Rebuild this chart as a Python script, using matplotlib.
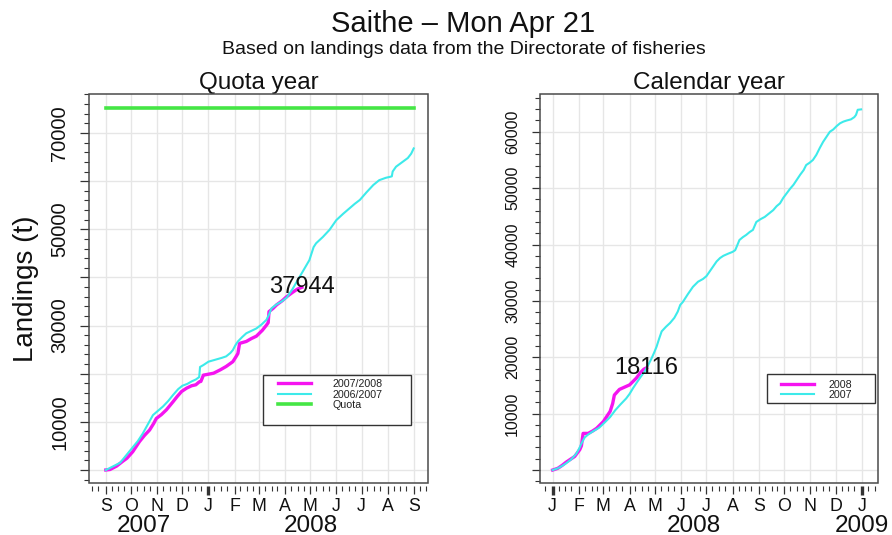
import numpy as np
import matplotlib
matplotlib.use('Agg')
import matplotlib.pyplot as plt
import matplotlib.dates as mdates
import matplotlib.transforms as mtransforms
from matplotlib.patches import Rectangle
from matplotlib.ticker import FixedLocator, FuncFormatter

plt.rcParams['font.family'] = ['Liberation Sans', 'DejaVu Sans']

# ---------------- data ----------------
title = 'Saithe – Mon Apr 21'
subtitle = 'Based on landings data from the Directorate of fisheries'
panel_titles = ['Quota year', 'Calendar year']
ylabel = 'Landings (t)'

# Quota year panel (days counted from 1 Sep 2007)
qy_start = '2007-09-01'
qy_cur_label = '2007/2008'
qy_cur_days = [0, 5, 13, 20, 25, 32, 40, 46, 52, 57, 60, 66, 72, 80, 85, 90, 96, 102, 107,
               111, 113, 116, 122, 128, 136, 143, 151, 155, 157, 159, 167, 173, 179, 186,
               191, 193, 194, 199, 203, 210, 215, 222, 228, 233]
qy_cur_vals = [0, 100, 830, 1800, 2430, 3800, 5900, 7200, 8300, 9700, 10700, 11500, 12500,
               14200, 15300, 16300, 17000, 17500, 17700, 18300, 18400, 19700, 19900, 20100,
               20800, 21500, 22500, 23600, 24200, 26300, 26700, 27300, 27800, 29000, 30100,
               30600, 32900, 33600, 34300, 35200, 36000, 36900, 37600, 37944]
qy_prev_label = '2006/2007'
qy_prev_days = [0, 8, 17, 24, 31, 38, 44, 50, 56, 62, 68, 74, 80, 86, 91, 97, 102, 107, 111,
                112, 116, 122, 130, 138, 143, 148, 151, 154, 157, 162, 167, 173, 179, 185,
                191, 194, 197, 203, 209, 215, 222, 228, 235, 242, 247, 250, 258, 266, 274,
                282, 290, 296, 302, 310, 318, 325, 333, 338, 340, 341, 345, 352, 359, 363, 366]
qy_prev_vals = [0, 700, 1500, 3000, 4500, 6000, 7600, 9500, 11400, 12300, 13200, 14300,
                15600, 16800, 17500, 17900, 18400, 18800, 19300, 21400, 21800, 22500, 22900,
                23300, 23600, 24300, 24900, 25900, 26700, 27600, 28400, 28900, 29400, 30200,
                31200, 32300, 33600, 34400, 35000, 35800, 37600, 39400, 41500, 43600, 46300,
                47100, 48400, 49900, 51900, 53200, 54400, 55300, 56100, 57700, 59200, 60200,
                60700, 60900, 61000, 62000, 63000, 63900, 64800, 65700, 66800]
quota_label = 'Quota'
quota_days = [0, 366]
quota_vals = [75100, 75100]

# Calendar year panel (days counted from 1 Jan 2008)
cy_start = '2008-01-01'
cy_cur_label = '2008'
cy_cur_days = [0, 6, 11, 16, 21, 26, 30, 32, 34, 36, 42, 47, 52, 56, 60, 64, 68, 71, 73, 76,
               79, 85, 91, 95, 99, 104, 108, 111]
cy_cur_vals = [0, 300, 800, 1400, 1900, 2400, 3200, 3600, 4300, 6500, 6500, 6900, 7400, 8000,
               8600, 9500, 10400, 11800, 13300, 13800, 14300, 14700, 15100, 15700, 16300,
               17300, 17900, 18116]
cy_prev_label = '2007'
cy_prev_days = [0, 6, 12, 16, 22, 28, 32, 34, 38, 42, 48, 55, 62, 68, 74, 80, 87, 91, 95, 99,
                104, 109, 113, 117, 120, 123, 126, 129, 134, 139, 144, 148, 151, 154, 160,
                166, 172, 178, 182, 188, 194, 198, 202, 208, 213, 216, 218, 221, 225, 229,
                233, 237, 239, 241, 246, 251, 256, 261, 265, 269, 273, 277, 281, 285, 289,
                293, 297, 300, 304, 308, 312, 316, 320, 324, 328, 332, 336, 340, 344, 348,
                353, 357, 359, 361, 365]
cy_prev_vals = [0, 300, 800, 1200, 1900, 2900, 4000, 4700, 5800, 6300, 6900, 7500, 8500, 9400,
                10600, 11600, 12700, 13500, 14500, 15400, 16500, 17500, 18600, 19800, 20800,
                21900, 23300, 24600, 25400, 26100, 27000, 28100, 29300, 29800, 31200, 32500,
                33400, 33900, 34400, 35700, 37000, 37600, 38000, 38400, 38700, 39000, 39700,
                40800, 41300, 41700, 42200, 42600, 43300, 44000, 44500, 44900, 45500, 46100,
                46800, 47300, 48300, 49100, 49900, 50600, 51500, 52400, 53200, 54100, 54500,
                55000, 55900, 57100, 58200, 59100, 60000, 60400, 61000, 61500, 61800, 62000,
                62200, 62600, 63000, 63900, 63970]

left_year_labels = ['2007', '2008']
left_year_dates = ['2007-10-16', '2008-05-02']
right_year_labels = ['2008', '2009']
right_year_dates = ['2008-06-16', '2009-01-01']

left_y_major = [0, 10000, 20000, 30000, 40000, 50000, 60000, 70000]
left_y_labels = ['', '10000', '', '30000', '', '50000', '', '70000']
right_y_major = [0, 10000, 20000, 30000, 40000, 50000, 60000]
right_y_labels = ['', '10000', '20000', '30000', '40000', '50000', '60000']

# ---------------- style ----------------
MAGENTA = '#f514f0'
CYAN = '#3deaea'
GREEN = '#45e645'
GRID = '#e6e6e6'
FRAME = '#4a4a4a'
TICK = '#333333'

W, H = 892, 535
fig = plt.figure(figsize=(W / 100, H / 100), dpi=100)


def px_axes(x0, x1, y0, y1):
    return fig.add_axes([x0 / W, (H - y1) / H, (x1 - x0) / W, (y1 - y0) / H])


def dates(start, days):
    return np.datetime64(start) + np.array(days, dtype='timedelta64[D]')


def month_formatter(x, pos):
    return mdates.num2date(x).strftime('%b')[0]


def style(ax, start, xpad_lo, xpad_hi, ylim, ymaj, ylab, ysize, ypad, ytick_len):
    s = np.datetime64(start)
    months = np.arange(s.astype('datetime64[M]'), s.astype('datetime64[M]') + 13)
    months = months.astype('datetime64[D]')
    ax.set_xlim(mdates.date2num(s - np.timedelta64(xpad_lo, 'D')),
                mdates.date2num(months[-1] + np.timedelta64(xpad_hi, 'D')))
    ax.set_ylim(*ylim)
    ax.set_xticks(mdates.date2num(months))
    ax.xaxis.set_major_formatter(FuncFormatter(month_formatter))
    ax.xaxis.set_minor_locator(mdates.DayLocator(bymonthday=[8, 16, 23]))
    ax.set_yticks(ymaj)
    ax.set_yticklabels(ylab, rotation=90, va='center')
    minor_y = np.arange(-2000, ylim[1], 2000)
    ax.yaxis.set_minor_locator(FixedLocator(minor_y))
    ax.grid(True, which='major', color=GRID, lw=1.0)
    ax.set_axisbelow(True)
    for sp in ax.spines.values():
        sp.set_visible(False)
    ax.spines['bottom'].set_position(('outward', 2.2))
    ax.add_patch(Rectangle((0, 0), 1, 1, transform=ax.transAxes, fill=False,
                           edgecolor=FRAME, lw=1.1, clip_on=False, zorder=5))
    ax.tick_params(axis='x', which='major', length=5.5, width=0.9, color=TICK,
                   labelsize=12.75, pad=3, labelcolor='#111111')
    ax.tick_params(axis='x', which='minor', length=3.6, width=0.8, color=TICK)
    ax.tick_params(axis='y', which='major', length=ytick_len, width=0.9, color=TICK,
                   labelsize=ysize, pad=ypad, labelcolor='#111111')
    ax.tick_params(axis='y', which='minor', length=3.6, width=0.8, color=TICK)
    for tick, loc in zip(ax.xaxis.get_major_ticks(), ax.get_xticks()):
        if mdates.num2date(loc).month == 1:
            tick.tick1line.set_markersize(6.8)
            tick.tick1line.set_markeredgewidth(2.4)


# ---------------- left panel ----------------
axL = px_axes(89, 428, 94, 483)
l_cur, = axL.plot(dates(qy_start, qy_cur_days), qy_cur_vals, color=MAGENTA, lw=2.4,
                  solid_joinstyle='round', label=qy_cur_label, zorder=3)
l_prev, = axL.plot(dates(qy_start, qy_prev_days), qy_prev_vals, color=CYAN, lw=1.5,
                   label=qy_prev_label, zorder=3)
l_quota, = axL.plot(dates(qy_start, quota_days), quota_vals, color=GREEN, lw=2.6,
                    label=quota_label, zorder=3)
style(axL, qy_start, 20, 17, (-2700, 78100), left_y_major, left_y_labels, 14.5, 7.8, 6.5)
axL.text(mdates.date2num(dates(qy_start, qy_cur_days)[-1]), qy_cur_vals[-1],
         f'{qy_cur_vals[-1]}', ha='center', va='center', fontsize=17, color='#111111', zorder=6)
axL.set_title(panel_titles[0], fontsize=17.5, pad=2.5, color='#111111')

blendL = mtransforms.blended_transform_factory(axL.transData, axL.transAxes)
for lab, d in zip(left_year_labels, left_year_dates):
    axL.text(mdates.date2num(np.datetime64(d)), -0.125, lab, transform=blendL,
             ha='center', va='baseline', fontsize=17.5, color='#111111', clip_on=False)

axL.add_patch(Rectangle((0.5142, 0.1491), 0.4357, 0.1285, transform=axL.transAxes,
                        fill=True, facecolor='white', edgecolor='#333333', lw=1.0, zorder=6))
legL = axL.legend(handles=[l_cur, l_prev, l_quota], loc='upper left',
                  bbox_to_anchor=(0.5584, 0.2668), frameon=False, fontsize=7.7,
                  handlelength=3.1, handletextpad=1.96, labelspacing=0.04, borderpad=0,
                  borderaxespad=0)
legL.set_zorder(7)
for t in legL.get_texts():
    t.set_color('#222222')

# ---------------- right panel ----------------
axR = px_axes(540, 878, 94, 483)
r_cur, = axR.plot(dates(cy_start, cy_cur_days), cy_cur_vals, color=MAGENTA, lw=2.4,
                  label=cy_cur_label, zorder=3)
r_prev, = axR.plot(dates(cy_start, cy_prev_days), cy_prev_vals, color=CYAN, lw=1.5,
                   label=cy_prev_label, zorder=3)
style(axR, cy_start, 15, 19, (-2300, 66700), right_y_major, right_y_labels, 11.5, 8.3, 6.0)
axR.text(mdates.date2num(dates(cy_start, cy_cur_days)[-1]), cy_cur_vals[-1],
         f'{cy_cur_vals[-1]}', ha='center', va='center', fontsize=17, color='#111111', zorder=6)
axR.set_title(panel_titles[1], fontsize=17.5, pad=2.5, color='#111111')

blendR = mtransforms.blended_transform_factory(axR.transData, axR.transAxes)
for lab, d in zip(right_year_labels, right_year_dates):
    axR.text(mdates.date2num(np.datetime64(d)), -0.125, lab, transform=blendR,
             ha='center', va='baseline', fontsize=17.5, color='#111111', clip_on=False)

axR.add_patch(Rectangle((0.6725, 0.2049), 0.3186, 0.0746, transform=axR.transAxes,
                        fill=True, facecolor='white', edgecolor='#333333', lw=1.0, zorder=6))
legR = axR.legend(handles=[r_cur, r_prev], loc='upper left',
                  bbox_to_anchor=(0.7121, 0.266), frameon=False, fontsize=7.7,
                  handlelength=3.1, handletextpad=1.34, labelspacing=0.0, borderpad=0,
                  borderaxespad=0)
legR.set_zorder(7)
for t in legR.get_texts():
    t.set_color('#222222')

# ---------------- titles ----------------
fig.text(463 / W, 1 - 32 / H, title, ha='center', va='baseline', fontsize=21, color='#111111')
fig.text(464 / W, 1 - 54 / H, subtitle, ha='center', va='baseline', fontsize=14,
         color='#111111')
fig.text(33.3 / W, 1 - 288.5 / H, ylabel, rotation=90, rotation_mode='anchor',
         ha='center', va='baseline', fontsize=20, color='#111111')

fig.savefig('out.png', dpi=100, facecolor='white')
